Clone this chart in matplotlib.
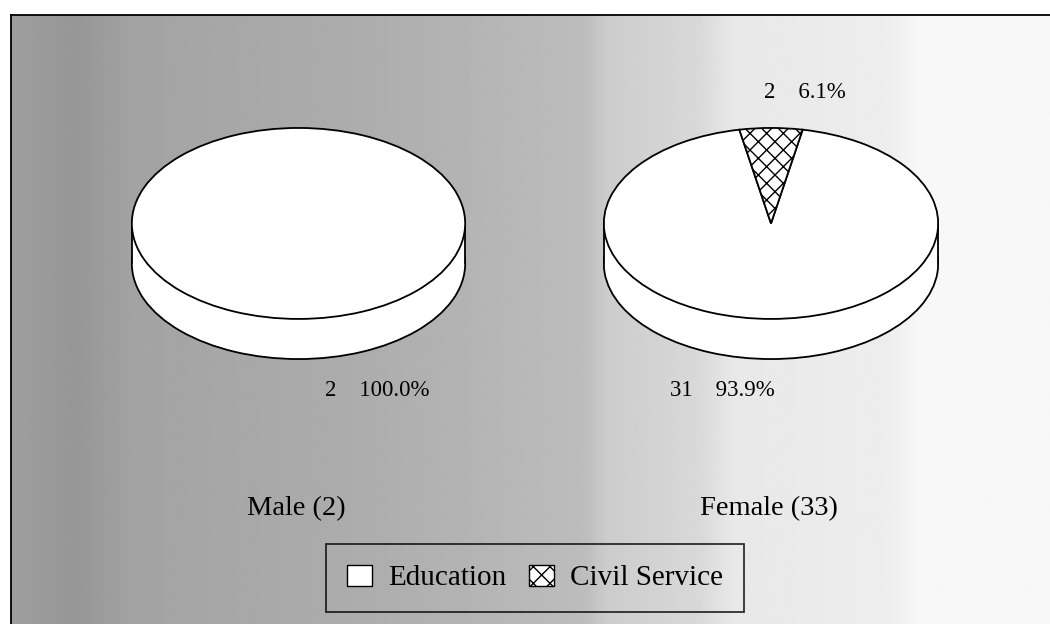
import numpy as np
import matplotlib.pyplot as plt
from matplotlib.patches import Patch, Rectangle

W, H = 1050, 624

groups = ['Male', 'Female']
group_totals = [2, 33]
categories = ['Education', 'Civil Service']
male_counts = [2]
female_counts = [31, 2]

plt.rcParams['font.family'] = ['Liberation Serif', 'DejaVu Serif']


def box(x0, y0, x1, y1):
    return [x0 / W, 1 - y1 / H, (x1 - x0) / W, (y1 - y0) / H]


def draw_pie(fig, rect, counts, hatches, startangle, depth=0.42):
    ax = fig.add_axes(rect)
    lw = 1.3
    # bottom face (mostly hidden), side band, then the top face
    ax.pie(counts, center=(0, -depth), startangle=startangle,
           colors=['white'] * len(counts),
           wedgeprops=dict(edgecolor='black', linewidth=lw))
    ax.add_patch(Rectangle((-1, -depth), 2, depth, facecolor='white',
                           edgecolor='none', zorder=2))
    ax.vlines([-1, 1], -depth, 0, color='black', linewidth=lw, zorder=3)
    wedges, _ = ax.pie(counts, startangle=startangle,
                       colors=['white'] * len(counts), hatch=hatches,
                       wedgeprops=dict(edgecolor='black', linewidth=lw))
    for w in wedges:
        w.set_zorder(4)
    ax.set_aspect('auto')
    ax.set_xlim(-1.005, 1.005)
    ax.set_ylim(-1 - depth - 0.01, 1.01)
    ax.axis('off')
    return ax


def main():
    fig = plt.figure(figsize=(W / 100, H / 100), dpi=100)

    # background gradient panel
    bg = fig.add_axes(box(11, 15, W + 5, H + 5))
    stops_x = [0.0, 0.06, 0.12, 0.35, 0.55, 0.57, 0.66, 0.69, 0.84, 0.87, 1.0]
    stops_g = [0.62, 0.59, 0.64, 0.68, 0.74, 0.80, 0.85, 0.91, 0.93, 0.97, 0.97]
    xs = np.linspace(0, 1, 600)
    grad = np.interp(xs, stops_x, stops_g)
    bg.imshow(grad[np.newaxis, :], aspect='auto', cmap='gray', vmin=0, vmax=1,
              extent=[0, 1, 0, 1])
    bg.set_xticks([])
    bg.set_yticks([])
    for s in ['right', 'bottom']:
        bg.spines[s].set_visible(False)
    for s in ['top', 'left']:
        bg.spines[s].set_linewidth(1.3)

    # Male pie
    draw_pie(fig, box(131, 127, 466, 360), male_counts, [''], 90)
    # Female pie: civil service slice centred at the top
    frac = female_counts[1] / sum(female_counts)
    draw_pie(fig, box(603, 127, 939, 360), female_counts, ['', 'xx'],
             90 + 180 * frac)

    def lab(n, total):
        return f'{n}    {100 * n / total:.1f}%'

    fs = 16.5
    fig.text(377 / W, 1 - 390 / H, lab(male_counts[0], sum(male_counts)),
             ha='center', va='center', fontsize=fs)
    fig.text(722 / W, 1 - 390 / H, lab(female_counts[0], sum(female_counts)),
             ha='center', va='center', fontsize=fs)
    fig.text(805 / W, 1 - 92 / H, lab(female_counts[1], sum(female_counts)),
             ha='center', va='center', fontsize=fs)

    fig.text(296 / W, 1 - 509 / H, f'{groups[0]} ({group_totals[0]})',
             ha='center', va='center', fontsize=20.5)
    fig.text(769 / W, 1 - 509 / H, f'{groups[1]} ({group_totals[1]})',
             ha='center', va='center', fontsize=20.5)

    handles = [Patch(facecolor='white', edgecolor='black', label=categories[0]),
               Patch(facecolor='white', edgecolor='black', hatch='xx',
                     label=categories[1])]
    leg = fig.legend(handles=handles, loc='center', ncol=2,
                     bbox_to_anchor=(535 / W, 1 - 578 / H),
                     fontsize=21, frameon=True, fancybox=False,
                     edgecolor='black', facecolor='none',
                     handlelength=0.85, handleheight=0.75, handletextpad=0.55,
                     columnspacing=0.8, borderpad=0.7, borderaxespad=0)
    leg.get_frame().set_linewidth(1.3)

    fig.savefig('out.png', dpi=100)


if __name__ == '__main__':
    main()
